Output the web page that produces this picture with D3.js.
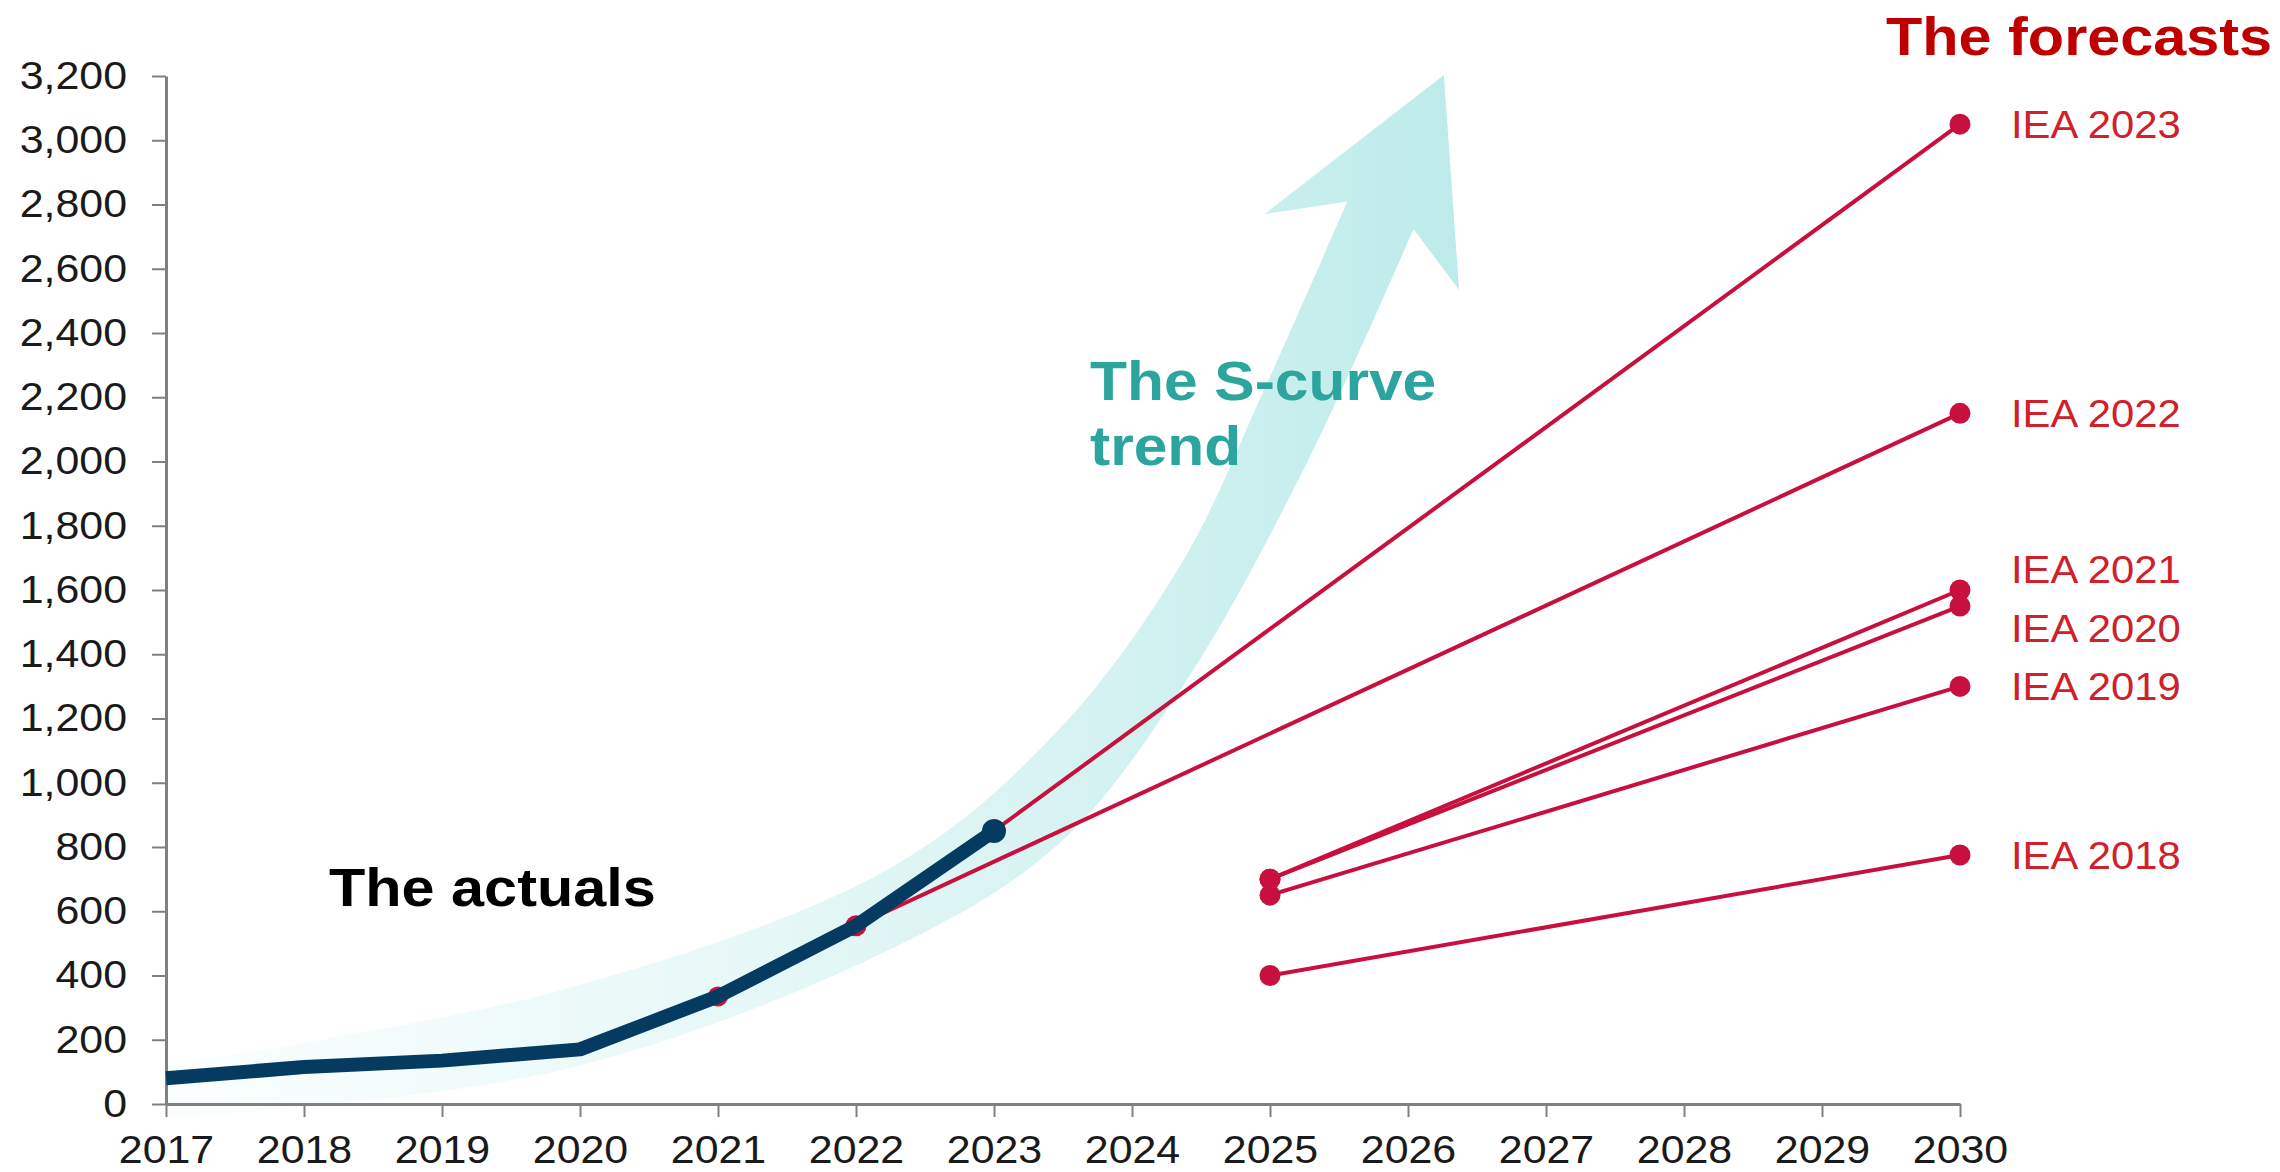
<!DOCTYPE html>
<html>
<head>
<meta charset="utf-8">
<script src="https://cdn.jsdelivr.net/npm/d3@7"></script>
<style>
  body { margin: 0; background: #fff; }
  svg { display: block; font-family: "Liberation Sans", Arial, sans-serif; }
</style>
</head>
<body>
<div id="chart"></div>
<script>
// actual installations
const actualYears = [2017, 2018, 2019, 2020, 2021, 2022, 2023];
const actualValues = [80, 115, 135, 170, 335, 555, 850];

// IEA forecasts (first point -> 2030)
const forecastNames = ["IEA 2018", "IEA 2019", "IEA 2020", "IEA 2021", "IEA 2022", "IEA 2023"];
const forecastStartYears = [2025, 2025, 2025, 2025, 2022, 2023];
const forecastStartValues = [400, 650, 700, 700, 555, 850];
const forecastEndYear = 2030;
const forecastEndValues = [775, 1300, 1550, 1600, 2150, 3050];

// red markers sitting under the actuals line
const redMarkYears = [2021, 2022];

// the S-curve arrow outline, in (year, value)
const trendLeft = [[2017, 121], [2019.87, 355], [2022.26, 738], [2023.46, 1161],
  [2024.36, 1684], [2024.96, 2226], [2025.56, 2809]];
const trendHead = [[2024.96, 2770], [2026.26, 3203], [2026.37, 2534], [2026.04, 2724]];
const trendRight = [[2026.04, 2724], [2025.26, 1989], [2024.36, 1296], [2023.46, 806],
  [2022.26, 484], [2019.87, 106], [2017, -44]];

const yTicks = d3.range(0, 3201, 200);
const xTicks = d3.range(2017, 2031);

const width = 2280, height = 1172;
const stretch = 1.1; // text in the original is a bit wide

const x = d3.scaleLinear().domain([2017, 2030]).range([166, 1960]);
const y = d3.scaleLinear().domain([0, 3200]).range([1104, 76]);

const svg = d3.select("#chart").append("svg")
  .attr("width", width)
  .attr("height", height);

const red = "#c8103e", labelRed = "#d0202a", navy = "#063b61";

// gradient for the arrow
const grad = svg.append("defs").append("linearGradient")
  .attr("id", "trendGrad")
  .attr("gradientUnits", "userSpaceOnUse")
  .attr("x1", x(2017)).attr("x2", x(2026.4))
  .attr("y1", 0).attr("y2", 0);
[[0, 0.06], [0.43, 0.35], [0.64, 0.55], [1, 1]].forEach(s => {
  grad.append("stop").attr("offset", s[0]).attr("stop-color", "#bdebea").attr("stop-opacity", s[1]);
});

const edge = d3.line().x(d => x(d[0])).y(d => y(d[1])).curve(d3.curveCatmullRom.alpha(0.5));
const arrowPath = edge(trendLeft)
  + trendHead.map(d => `L${x(d[0])},${y(d[1])}`).join("")
  + edge(trendRight).replace(/^M/, "L") + "Z";

svg.append("path")
  .attr("d", arrowPath)
  .attr("fill", "url(#trendGrad)");

function addText(px, py, str, opts) {
  const t = svg.append("text")
    .attr("transform", `translate(${px},${py}) scale(${stretch},1)`)
    .text(str);
  Object.entries(opts).forEach(([k, v]) => t.attr(k, v));
  return t;
}

// axes
const yAxis = svg.append("g")
  .attr("transform", `translate(${x(2017)},0)`)
  .call(d3.axisLeft(y).tickValues(yTicks).tickFormat(d3.format(",")).tickSize(14).tickSizeOuter(0).tickPadding(25));
const xAxis = svg.append("g")
  .attr("transform", `translate(0,${y(0)})`)
  .call(d3.axisBottom(x).tickValues(xTicks).tickFormat(d3.format("d")).tickSize(13).tickSizeOuter(0).tickPadding(18));

[yAxis, xAxis].forEach(g => {
  g.select(".domain").attr("stroke", "#808080").attr("stroke-width", 3);
  g.selectAll(".tick line").attr("stroke", "#808080").attr("stroke-width", 2);
  g.selectAll(".tick text").attr("fill", "#1a1a1a").attr("font-size", 39)
    .attr("font-family", "Liberation Sans, Arial, sans-serif");
});
yAxis.selectAll(".tick text").each(function () {
  const t = d3.select(this);
  const px = +t.attr("x");
  t.attr("x", 0).attr("transform", `translate(${px},0) scale(${stretch},1)`);
});
xAxis.selectAll(".tick text").attr("transform", `scale(${stretch},1)`);

// forecast lines
const fc = forecastNames.map((name, i) => ({
  name,
  pts: [[forecastStartYears[i], forecastStartValues[i]], [forecastEndYear, forecastEndValues[i]]]
}));
const line = d3.line().x(d => x(d[0])).y(d => y(d[1]));

svg.append("g").selectAll("path")
  .data(fc)
  .join("path")
  .attr("d", d => line(d.pts))
  .attr("fill", "none")
  .attr("stroke", red)
  .attr("stroke-width", 4);

svg.append("g").selectAll("circle")
  .data(fc.flatMap(d => d.pts))
  .join("circle")
  .attr("cx", d => x(d[0]))
  .attr("cy", d => y(d[1]))
  .attr("r", 10.5)
  .attr("fill", red);

svg.append("g").selectAll("circle")
  .data(redMarkYears)
  .join("circle")
  .attr("cx", d => x(d))
  .attr("cy", d => y(actualValues[actualYears.indexOf(d)]))
  .attr("r", 10)
  .attr("fill", red);

// actuals
const actual = actualYears.map((yr, i) => [yr, actualValues[i]]);
svg.append("path")
  .attr("d", line(actual))
  .attr("fill", "none")
  .attr("stroke", navy)
  .attr("stroke-width", 14)
  .attr("stroke-linejoin", "round");
svg.append("circle")
  .attr("cx", x(2023)).attr("cy", y(850)).attr("r", 12)
  .attr("fill", navy);

// forecast labels
const labelShift = { "IEA 2021": -21, "IEA 2020": 22 };
fc.forEach((d, i) => {
  addText(x(forecastEndYear) + 51, y(forecastEndValues[i]) + (labelShift[d.name] || 0) + 13.5, d.name, {
    "font-size": 38, fill: labelRed
  });
});

addText(1886, 55, "The forecasts", { "font-size": 54, "font-weight": "bold", fill: "#c00000" });
addText(329, 906, "The actuals", { "font-size": 54, "font-weight": "bold", fill: "#000" });
addText(1090, 400, "The S-curve", { "font-size": 55, "font-weight": "bold", fill: "#2ba59e" });
addText(1090, 465, "trend", { "font-size": 55, "font-weight": "bold", fill: "#2ba59e" });
</script>
</body>
</html>
